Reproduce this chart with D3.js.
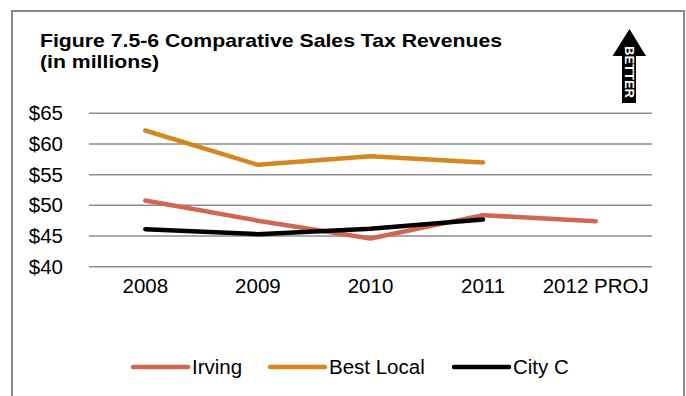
<!DOCTYPE html>
<html>
<head>
<meta charset="utf-8">
<script src="https://cdnjs.cloudflare.com/ajax/libs/d3/7.8.5/d3.min.js"></script>
<style>
  body { margin: 0; background: #fff; }
  svg { display: block; font-family: "Liberation Sans", Arial, sans-serif; }
</style>
</head>
<body>
<svg width="686" height="396"></svg>
<script>
// data
var years = ["2008", "2009", "2010", "2011", "2012 PROJ"];
var irving = [50.8, 47.5, 44.6, 48.4, 47.4];
var bestLocal = [62.2, 56.6, 58.0, 57.0, null];
var cityC = [46.1, 45.3, 46.2, 47.7, null];
var yTicks = [40, 45, 50, 55, 60, 65];

var seriesNames = ["Irving", "Best Local", "City C"];
var seriesColors = ["#cd6851", "#d4861f", "#000000"];

var svg = d3.select("svg"),
    width = +svg.attr("width"),
    height = +svg.attr("height");

var margin = {top: 113.3, right: 34, bottom: 129.3, left: 89};

var x = d3.scaleBand()
    .domain(years)
    .range([margin.left, width - margin.right]);

var y = d3.scaleLinear()
    .domain([40, 65])
    .range([height - margin.bottom, margin.top]);

// frame
svg.append("rect")
    .attr("x", 12).attr("y", 11)
    .attr("width", 672).attr("height", 400)
    .attr("fill", "none")
    .attr("stroke", "#878787")
    .attr("stroke-width", 2);

// title (original is a bit stretched sideways)
var title = svg.append("g")
    .attr("transform", "translate(40,0) scale(1.18,1)")
    .style("font-weight", "bold")
    .style("font-size", "18px")
    .attr("fill", "#000");
title.append("text").attr("y", 47.5).text("Figure 7.5-6 Comparative Sales Tax Revenues");
title.append("text").attr("y", 68.5).text("(in millions)");

// gridlines
svg.append("g")
    .selectAll("line")
    .data(yTicks)
    .enter().append("line")
    .attr("x1", margin.left)
    .attr("x2", width - margin.right)
    .attr("y1", function(d) { return y(d); })
    .attr("y2", function(d) { return y(d); })
    .attr("stroke", "#8c8c8c")
    .attr("stroke-width", 1.5);

// y axis labels
var yAxis = d3.axisLeft(y)
    .tickValues(yTicks)
    .tickFormat(function(d) { return "$" + d; })
    .tickSize(0)
    .tickPadding(26);

svg.append("g")
    .attr("transform", "translate(" + margin.left + ",0)")
    .call(yAxis)
    .call(function(g) { g.select(".domain").remove(); })
    .selectAll("text")
    .attr("font-family", "'Liberation Sans', Arial, sans-serif")
    .attr("font-size", "20.5px")
    .attr("fill", "#000");

// x axis labels
var xAxis = d3.axisBottom(x).tickSize(0).tickPadding(12);

svg.append("g")
    .attr("transform", "translate(0," + y(40) + ")")
    .call(xAxis)
    .call(function(g) { g.select(".domain").remove(); })
    .selectAll("text")
    .attr("font-family", "'Liberation Sans', Arial, sans-serif")
    .attr("font-size", "20.5px")
    .attr("fill", "#000");

// lines
var line = d3.line()
    .defined(function(d) { return d.v != null; })
    .x(function(d) { return x(d.year) + x.bandwidth() / 2; })
    .y(function(d) { return y(d.v); });

var allSeries = [irving, bestLocal, cityC];

// draw order: Best Local, Irving, City C on top
[1, 0, 2].forEach(function(i) {
  var pts = years.map(function(yr, j) { return {year: yr, v: allSeries[i][j]}; });
  svg.append("path")
      .datum(pts)
      .attr("d", line)
      .attr("fill", "none")
      .attr("stroke", seriesColors[i])
      .attr("stroke-width", 4.5)
      .attr("stroke-linejoin", "round")
      .attr("stroke-linecap", "round");
});

// legend
var legendX = [133, 270, 454];
var legend = svg.append("g")
    .selectAll("g")
    .data(seriesNames)
    .enter().append("g")
    .attr("transform", function(d, i) { return "translate(" + legendX[i] + ",367)"; });

legend.append("line")
    .attr("x1", 0).attr("x2", 55)
    .attr("stroke", function(d, i) { return seriesColors[i]; })
    .attr("stroke-width", 4.5)
    .attr("stroke-linecap", "round");

legend.append("text")
    .attr("x", 59)
    .attr("dy", "0.35em")
    .attr("font-size", "20.5px")
    .text(function(d) { return d; });

// BETTER arrow
var arrow = svg.append("g");
arrow.append("path")
    .attr("d", "M629.5,29 L646,56 L636,56 L636,103 L622,103 L622,56 L612.5,56 Z")
    .attr("fill", "#000");
arrow.append("text")
    .attr("transform", "translate(624.5,72) rotate(90)")
    .attr("text-anchor", "middle")
    .attr("font-weight", "bold")
    .attr("font-size", "13px")
    .attr("fill", "#fff")
    .text("BETTER");
</script>
</body>
</html>
